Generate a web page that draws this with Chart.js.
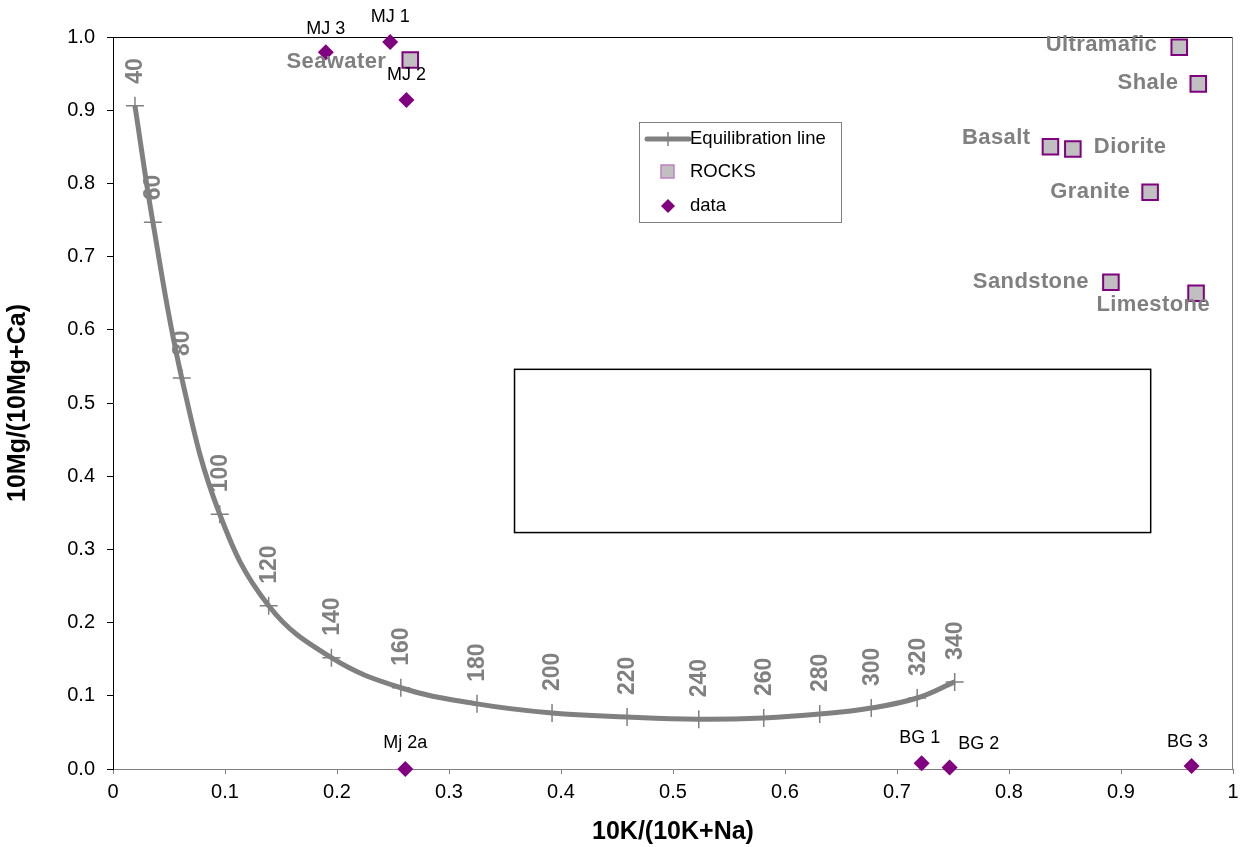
<!DOCTYPE html>
<html>
<head>
<meta charset="utf-8">
<script src="https://cdn.jsdelivr.net/npm/chart.js@4.4.1/dist/chart.umd.min.js"></script>
<style>
  html, body { margin: 0; padding: 0; background: #fff; overflow: hidden; }
  #wrap { width: 1246px; height: 847px; position: relative; }
  canvas { display: block; }
</style>
</head>
<body>
<div id="wrap"><canvas id="c"></canvas></div>
<script>
// ---- Data ----
const tempLabels = ['40','60','80','100','120','140','160','180','200','220','240','260','280','300','320','340'];
const eqX = [0.0196,0.0356,0.0614,0.0953,0.139,0.195,0.257,0.325,0.392,0.459,0.523,0.581,0.631,0.677,0.718,0.7515];
const eqY = [0.906,0.747,0.534,0.348,0.223,0.152,0.111,0.089,0.0765,0.071,0.068,0.0697,0.075,0.0833,0.097,0.119];

const rockNames = ['Seawater','Ultramafic','Shale','Basalt','Diorite','Granite','Sandstone','Limestone'];
const rockX = [0.2654,0.952,0.969,0.837,0.857,0.926,0.891,0.967];
const rockY = [0.9686,0.986,0.936,0.850,0.847,0.788,0.665,0.650];

const dataNames = ['MJ 1','MJ 2','MJ 3','Mj 2a','BG 1','BG 2','BG 3'];
const dataX = [0.2475,0.262,0.190,0.261,0.722,0.747,0.963];
const dataY = [0.993,0.914,0.979,0.0,0.008,0.002,0.004];

const xTicks = [0,0.1,0.2,0.3,0.4,0.5,0.6,0.7,0.8,0.9,1];
const yTicks = [0,0.1,0.2,0.3,0.4,0.5,0.6,0.7,0.8,0.9,1];

// empty text box (data coordinates)
const boxX = [0.3585, 0.9265];
const boxY = [0.323, 0.546];

// ---- label placement (styles / offsets, not data) ----
const rockLabelPos = [
  {dx:-24, dy:2, align:'right'},
  {dx:-22, dy:-2, align:'right'},
  {dx:-20, dy:-1, align:'right'},
  {dx:-20, dy:-9, align:'right'},
  {dx:21, dy:-2, align:'left'},
  {dx:-20, dy:0, align:'right'},
  {dx:-22, dy:0, align:'right'},
  {dx:14, dy:12, align:'right'}
];
const dataLabelPos = [
  {dx:0, dy:-25},{dx:0, dy:-25},{dx:0, dy:-23},{dx:0, dy:-26},
  {dx:-2, dy:-25},{dx:29, dy:-24},{dx:-4, dy:-24}
];

const GRAY = '#808080';
const PURPLE = '#800080';
const ROCKFILL = '#c0c0c0';
const FONT = '"Liberation Sans", Arial, sans-serif';

const toPts = (xs, ys) => xs.map((x, i) => ({x, y: ys[i]}));

const labelsPlugin = {
  id: 'labels',
  beforeDatasetsDraw(chart) {
    const {ctx, chartArea: a, scales: {x, y}} = chart;
    ctx.save();
    ctx.lineWidth = 1;
    ctx.strokeStyle = '#000';
    ctx.beginPath(); ctx.moveTo(a.left, a.top + 0.5); ctx.lineTo(a.right, a.top + 0.5); ctx.stroke();
    ctx.strokeStyle = GRAY;
    ctx.beginPath(); ctx.moveTo(a.right - 0.5, a.top); ctx.lineTo(a.right - 0.5, a.bottom); ctx.stroke();
    const bx0 = x.getPixelForValue(boxX[0]), bx1 = x.getPixelForValue(boxX[1]);
    const by0 = y.getPixelForValue(boxY[1]), by1 = y.getPixelForValue(boxY[0]);
    ctx.strokeStyle = '#000';
    ctx.lineWidth = 1.5;
    ctx.strokeRect(bx0, by0, bx1 - bx0, by1 - by0);
    ctx.restore();
  },
  afterDatasetsDraw(chart) {
    const {ctx, scales: {x, y}} = chart;
    ctx.save();
    ctx.fillStyle = GRAY;
    ctx.font = 'bold 23px ' + FONT;
    ctx.textBaseline = 'middle';
    ctx.textAlign = 'left';
    tempLabels.forEach((t, i) => {
      const px = x.getPixelForValue(eqX[i]);
      const py = y.getPixelForValue(eqY[i]);
      ctx.save();
      ctx.translate(px + 1, py - 22);
      ctx.rotate(-Math.PI / 2);
      ctx.fillText(t, 0, 0);
      ctx.restore();
    });
    ctx.font = 'bold 22px ' + FONT;
    ctx.letterSpacing = '0.4px';
    ctx.fillStyle = GRAY;
    rockNames.forEach((n, i) => {
      const p = rockLabelPos[i];
      ctx.textAlign = p.align;
      ctx.fillText(n, x.getPixelForValue(rockX[i]) + p.dx, y.getPixelForValue(rockY[i]) + p.dy);
    });
    ctx.letterSpacing = '0px';
    ctx.font = '18px ' + FONT;
    ctx.fillStyle = '#000';
    ctx.textAlign = 'center';
    dataNames.forEach((n, i) => {
      const p = dataLabelPos[i];
      ctx.fillText(n, x.getPixelForValue(dataX[i]) + p.dx, y.getPixelForValue(dataY[i]) + p.dy);
    });
    ctx.restore();
  },
  afterDraw(chart) {
    const {ctx} = chart;
    const L = 639, T = 122, W = 202, H = 100;
    ctx.save();
    ctx.fillStyle = '#fff';
    ctx.fillRect(L, T, W, H);
    ctx.strokeStyle = GRAY;
    ctx.lineWidth = 1;
    ctx.strokeRect(L + 0.5, T + 0.5, W, H);
    const ds = chart.data.datasets;
    const rows = [T + 17, T + 50, T + 84];
    ctx.strokeStyle = GRAY; ctx.lineWidth = 5; ctx.lineCap = 'round';
    ctx.beginPath(); ctx.moveTo(L + 8, rows[0]); ctx.lineTo(L + 50, rows[0]); ctx.stroke();
    ctx.lineWidth = 1.5; ctx.lineCap = 'butt';
    ctx.beginPath(); ctx.moveTo(L + 29, rows[0] - 7); ctx.lineTo(L + 29, rows[0] + 7); ctx.stroke();
    ctx.fillStyle = ROCKFILL; ctx.strokeStyle = '#c080c0'; ctx.lineWidth = 1.5;
    ctx.fillRect(L + 22, rows[1] - 7, 13, 13); ctx.strokeRect(L + 22, rows[1] - 7, 13, 13);
    ctx.fillStyle = PURPLE;
    ctx.beginPath();
    ctx.moveTo(L + 29, rows[2] - 7); ctx.lineTo(L + 36, rows[2]); ctx.lineTo(L + 29, rows[2] + 7); ctx.lineTo(L + 22, rows[2]);
    ctx.closePath(); ctx.fill();
    ctx.fillStyle = '#000';
    ctx.font = '18.5px ' + FONT;
    ctx.textAlign = 'left'; ctx.textBaseline = 'middle';
    ctx.fillText(ds[0].label, L + 51, rows[0]);
    ctx.fillText(ds[1].label, L + 51, rows[1]);
    ctx.fillText(ds[2].label, L + 51, rows[2]);
    ctx.restore();
  }
};

new Chart(document.getElementById('c'), {
  type: 'scatter',
  data: {
    datasets: [
      {
        label: 'Equilibration line',
        data: toPts(eqX, eqY),
        showLine: true,
        borderColor: GRAY,
        borderWidth: 5,
        tension: 0.4,
        pointStyle: 'cross',
        pointRadius: 9,
        pointBorderWidth: 1.5,
        pointBorderColor: GRAY,
        pointBackgroundColor: GRAY,
        clip: false
      },
      {
        label: 'ROCKS',
        data: toPts(rockX, rockY),
        pointStyle: 'rect',
        pointRadius: 11,
        pointBorderWidth: 2,
        pointBorderColor: PURPLE,
        pointBackgroundColor: ROCKFILL,
        clip: false
      },
      {
        label: 'data',
        data: toPts(dataX, dataY),
        pointStyle: 'rectRot',
        pointRadius: 8,
        pointBorderWidth: 0,
        pointBackgroundColor: PURPLE,
        pointBorderColor: PURPLE,
        clip: false
      }
    ]
  },
  options: {
    responsive: true,
    maintainAspectRatio: false,
    animation: false,
    layout: { padding: { top: 37, right: 10, left: 0, bottom: 0 } },
    plugins: { legend: { display: false }, tooltip: { enabled: false } },
    scales: {
      x: {
        type: 'linear', min: 0, max: 1,
        afterBuildTicks: s => { s.ticks = xTicks.map(v => ({value: v})); },
        afterFit: s => { s.height = 78; s.paddingRight = 0; s.paddingLeft = 0; },
        border: { color: GRAY, width: 1 },
        grid: { drawOnChartArea: false, tickLength: 5, color: GRAY },
        ticks: {
          color: '#000', padding: 6, maxRotation: 0,
          font: { family: FONT, size: 20 },
          callback: v => (v === 0 ? '0' : v === 1 ? '1' : v.toFixed(1))
        },
        title: {
          display: true, text: '10K/(10K+Na)', color: '#000',
          font: { family: FONT, size: 25, weight: 'bold' },
          padding: { top: 0, bottom: 0 }
        }
      },
      y: {
        type: 'linear', min: 0, max: 1,
        afterBuildTicks: s => { s.ticks = yTicks.map(v => ({value: v})); },
        afterFit: s => { s.width = 113; s.paddingTop = 0; s.paddingBottom = 0; },
        border: { color: '#000', width: 1 },
        grid: { drawOnChartArea: false, tickLength: 6, color: '#000' },
        ticks: {
          color: '#000', padding: 12,
          font: { family: FONT, size: 20 },
          callback: v => v.toFixed(1)
        },
        title: {
          display: true, text: '10Mg/(10Mg+Ca)', color: '#000',
          font: { family: FONT, size: 25, weight: 'bold' },
          padding: { top: 3, bottom: 0 }
        }
      }
    }
  },
  plugins: [labelsPlugin]
});
</script>
</body>
</html>
